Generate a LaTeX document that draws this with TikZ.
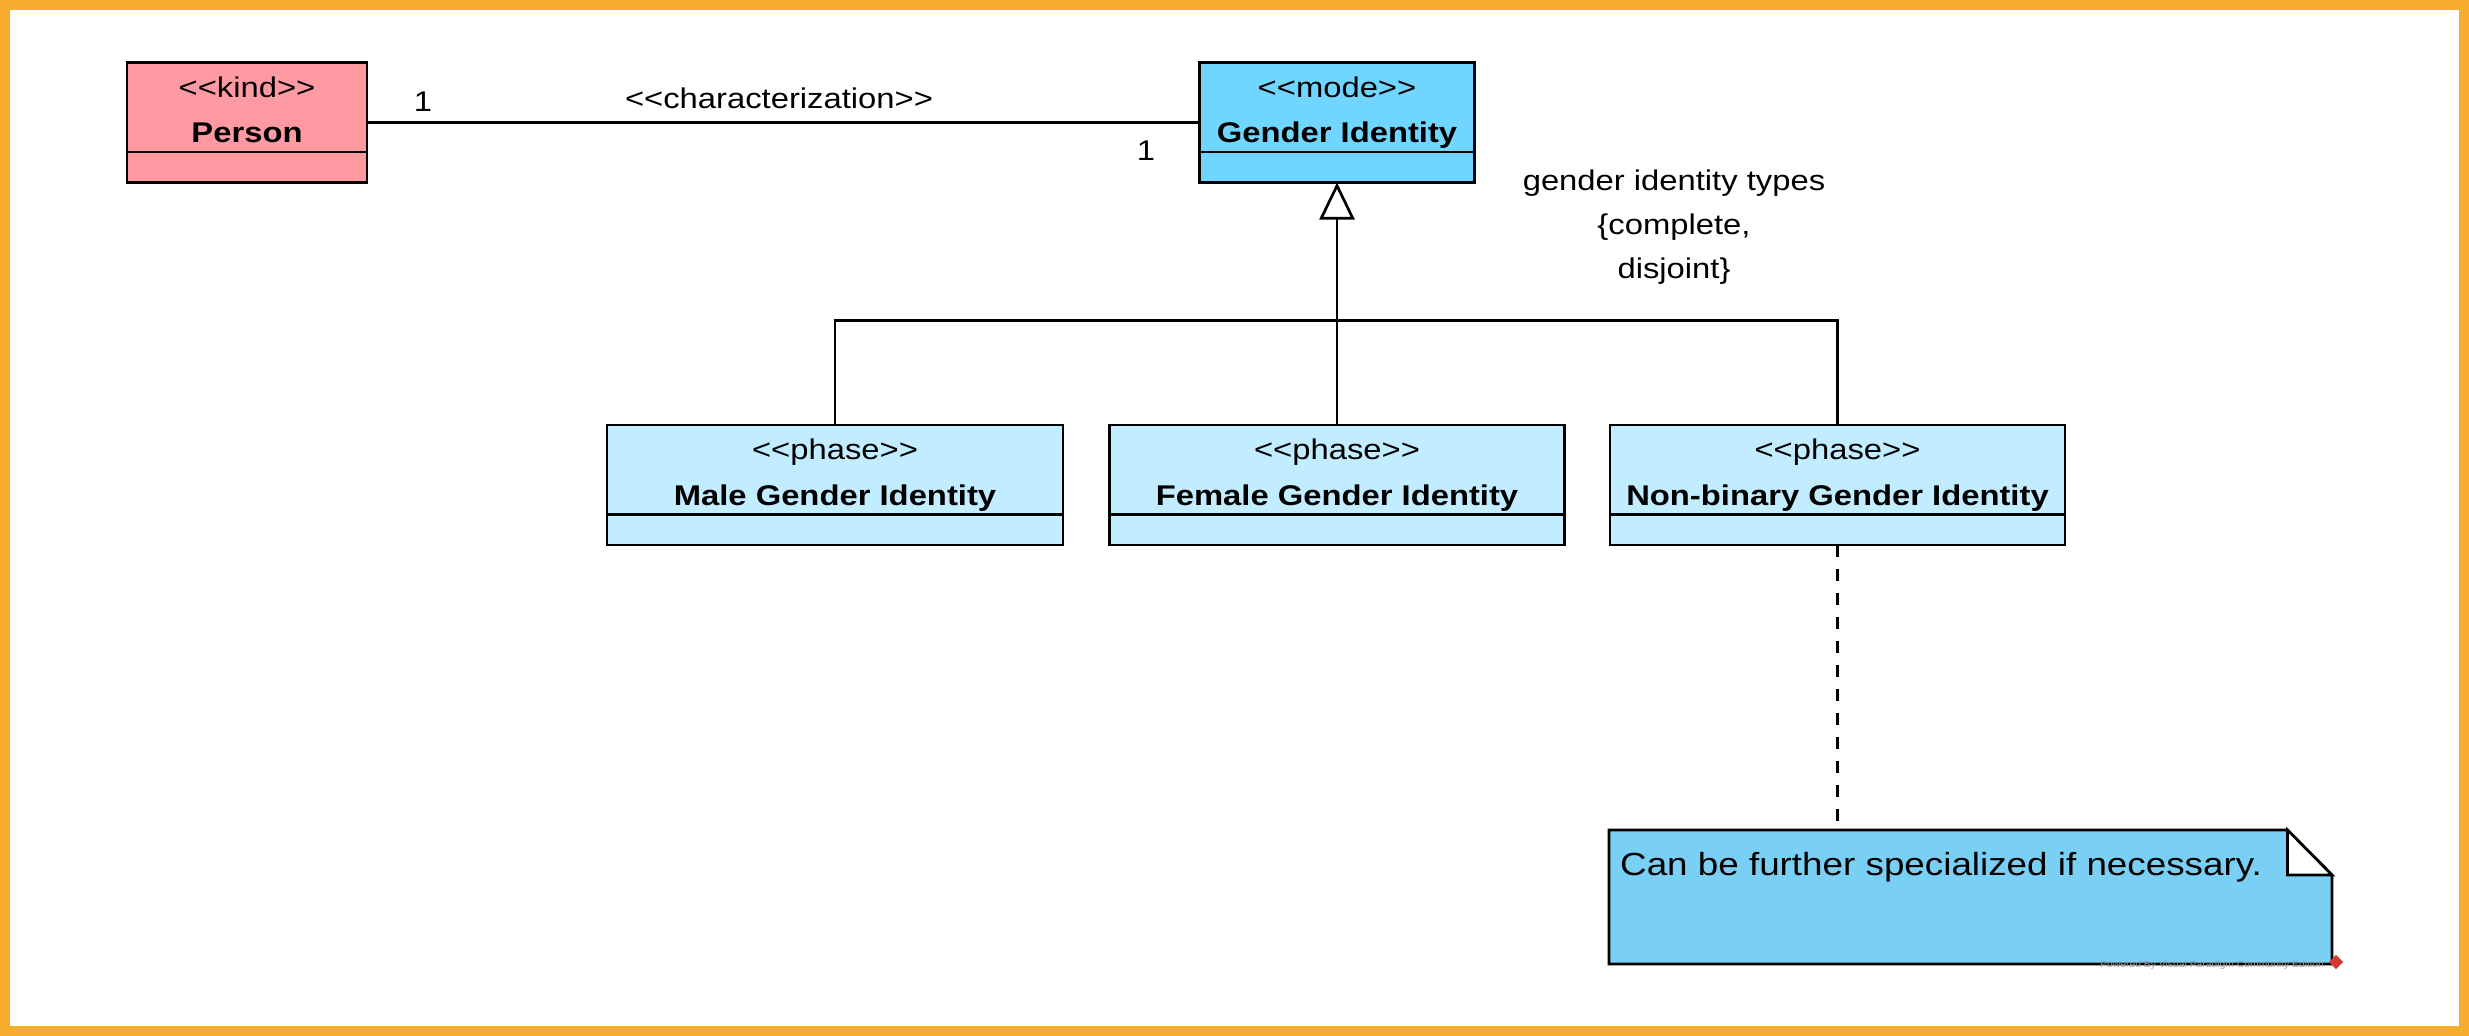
\documentclass[tikz,border=0pt]{standalone}
\usepackage{fontspec}
\setmainfont{Liberation Sans}[FakeStretch=1.15]
\usetikzlibrary{arrows.meta}
\definecolor{orangeB}{HTML}{F7AE2E}
\definecolor{personC}{HTML}{FF99A2}
\definecolor{modeC}{HTML}{70D6FF}
\definecolor{phaseC}{HTML}{C2ECFF}
\definecolor{noteC}{HTML}{7ACFF4}
\definecolor{wmC}{HTML}{9A9A9A}
\definecolor{vpred}{HTML}{D23A32}
\newcommand{\stOpen}{<\kern0pt<}
\newcommand{\stClose}{>\kern0pt>}
\newcommand{\mkUmlClass}[7]{%
  \node[umlbox, fill=#5, minimum width=#4pt, anchor=north] (#1) at (#2,#3) {};
  \draw[ln] ([yshift=-89.5pt]#1.north west) -- ([yshift=-89.5pt]#1.north east);
  \node[lbl] (#1s) at (#2,#3+34.5) {#6};
  \node[boldlbl] (#1t) at (#2,#3+80) {#7};
}
\begin{document}
\begin{tikzpicture}[x=1pt,y=-1pt,
  ln/.style={line width=2.7pt},
  umlbox/.style={draw, line width=2.7pt, rectangle, inner sep=0pt, outer sep=0pt, minimum height=120pt},
  lbl/.style={font=\fontsize{28.5}{34}\selectfont, inner sep=0pt, anchor=base},
  boldlbl/.style={font=\fontsize{28.5}{34}\selectfont\bfseries, inner sep=0pt, anchor=base},
]
\useasboundingbox (0,0) rectangle (2469,1036);
\fill[white] (0,0) rectangle (2469,1036);

% classes
\mkUmlClass{person}{247}{62.5}{240}{personC}{\stOpen kind\stClose}{Person}
\mkUmlClass{gi}{1337}{62.5}{275}{modeC}{\stOpen mode\stClose}{Gender Identity}
\mkUmlClass{male}{835}{425}{456}{phaseC}{\stOpen phase\stClose}{Male Gender Identity}
\mkUmlClass{fem}{1337}{425}{455}{phaseC}{\stOpen phase\stClose}{Female Gender Identity}
\mkUmlClass{nb}{1837.5}{425}{455}{phaseC}{\stOpen phase\stClose}{Non-binary Gender Identity}

% association
\draw[ln] (person.east) -- (gi.west);
\node[lbl] (m1) at (423,111.7) {1};
\node[lbl] (m2) at (1146,160) {1};
\node[lbl] (assoc) at (779,108.3) {\stOpen characterization\stClose};

% generalization set
\coordinate (jn) at (1337,320.5);
\draw[ln] (male.north) |- (jn) -| (nb.north);
\draw[ln] (fem.north) -- (jn);
\draw[ln, -{Triangle[fill=white, length=37pt, width=35pt]}] (jn) -- (gi.south);
\node[font=\fontsize{28.5}{44}\selectfont, inner sep=0pt, anchor=north, align=center] (gset) at (1674,169.5)
  {gender identity types\\\{complete,\\disjoint\}};

% note
\node[inner sep=0pt, outer sep=0pt, minimum width=723pt, minimum height=134pt, anchor=north west] (note) at (1609,830) {};
\fill[noteC] (note.north west) -- ([xshift=-44.5pt]note.north east) -- ([yshift=-45pt]note.north east)
  -- (note.south east) -- (note.south west) -- cycle;
\draw[ln, line join=miter] (note.north west) -- ([xshift=-44.5pt]note.north east) -- ([yshift=-45pt]note.north east)
  -- (note.south east) -- (note.south west) -- cycle;
\draw[ln, fill=white, line join=miter] ([xshift=-44.5pt]note.north east) -- ([xshift=-44.5pt,yshift=-45pt]note.north east)
  -- ([yshift=-45pt]note.north east) -- cycle;
\node[font=\fontsize{32}{38}\selectfont, inner sep=0pt, anchor=base west] (notetext) at (1620,875)
  {Can be further specialized if necessary.};
\draw[ln, dash pattern=on 12pt off 12pt] (nb.south) -- (note.north -| nb.south);

% watermark
\node[font=\fontsize{9}{11}\selectfont, text=wmC, inner sep=0pt, anchor=base east] (wm) at (2324,967)
  {Powered By Visual Paradigm Community Edition};
\node[fill=vpred, rotate=45, minimum size=10pt, inner sep=0pt] (vplogo) at (2336,962) {};

% frame
\draw[orangeB, line width=10pt] (5,5) rectangle (2464,1031);
\end{tikzpicture}
\end{document}
